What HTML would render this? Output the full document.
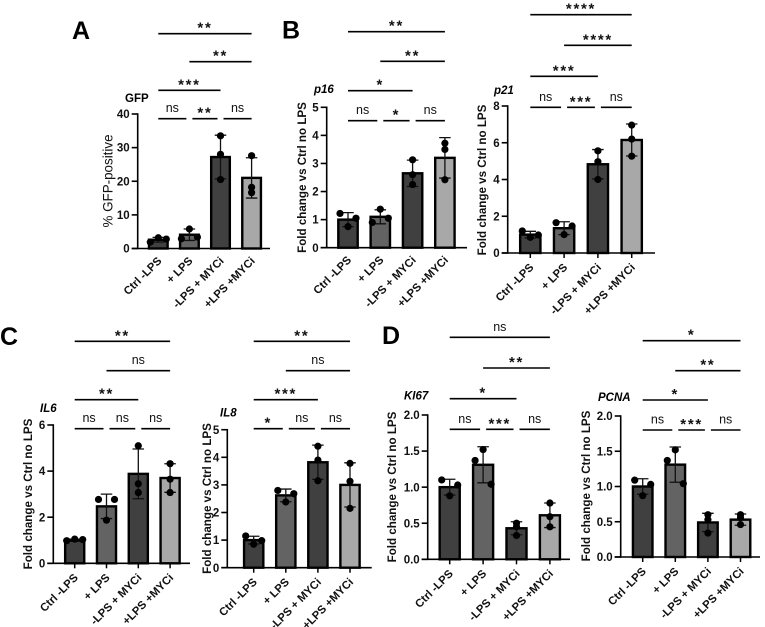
<!DOCTYPE html>
<html lang="en">
<head>
<meta charset="utf-8">
<title>Fold change bar charts</title>
<style>
html,body{margin:0;padding:0;background:#fff;}
svg{display:block;font-family:"Liberation Sans",Arial,sans-serif;}
.letter{font-size:25px;font-weight:700;fill:#000;}
.ptitle{font-size:11.5px;font-weight:700;fill:#000;}
.ital{font-style:italic;}
.ytitle{font-size:11.6px;font-weight:700;fill:#111;text-anchor:middle;}
.ytitle-reg{font-size:13.4px;font-weight:400;fill:#111;text-anchor:middle;}
.tick{font-size:11.5px;font-weight:700;fill:#111;text-anchor:end;}
.xlab{font-size:11.3px;font-weight:700;fill:#111;text-anchor:end;}
.ns{font-size:12.5px;fill:#111;text-anchor:middle;}
.star{font-size:15px;font-weight:700;fill:#111;text-anchor:middle;letter-spacing:1.7px;}
</style>
</head>
<body>
<svg id="figure" xmlns="http://www.w3.org/2000/svg" width="765" height="627" viewBox="0 0 765 627">
  <rect width="765" height="627" fill="#fff"/>
  <text class="letter" x="72" y="39">A</text>
  <text class="letter" x="282" y="38.500">B</text>
  <text class="letter" x="0" y="345">C</text>
  <text class="letter" x="382" y="344">D</text>

  <g id="panel-gfp">
    <text class="ptitle" x="125" y="102">GFP</text>
    <text class="ytitle-reg" transform="translate(112.500,181) rotate(-90)">% GFP-positive</text>
  </g>
  <g id="panel-p16">
    <text class="ptitle ital" x="314" y="93">p16</text>
    <text class="ytitle" transform="translate(306,177.500) rotate(-90)">Fold change vs Ctrl no LPS</text>
  </g>
  <g id="panel-p21">
    <text class="ptitle ital" x="494" y="94">p21</text>
    <text class="ytitle" transform="translate(486,180) rotate(-90)">Fold change vs Ctrl no LPS</text>
  </g>
  <g id="panel-il6">
    <text class="ptitle ital" x="40" y="412">IL6</text>
    <text class="ytitle" transform="translate(32,494) rotate(-90)">Fold change vs Ctrl no LPS</text>
  </g>
  <g id="panel-il8">
    <text class="ptitle ital" x="220" y="416.500">IL8</text>
    <text class="ytitle" transform="translate(211,498.500) rotate(-90)">Fold change vs Ctrl no LPS</text>
  </g>
  <g id="panel-ki67">
    <text class="ptitle ital" x="404" y="399.500">KI67</text>
    <text class="ytitle" transform="translate(396,487) rotate(-90)">Fold change vs Ctrl no LPS</text>
  </g>
  <g id="panel-pcna">
    <text class="ptitle ital" x="598" y="401">PCNA</text>
    <text class="ytitle" transform="translate(590,486) rotate(-90)">Fold change vs Ctrl no LPS</text>
  </g>
</svg>

<script>
// ---- shared categories ----
const categories = ['Ctrl -LPS', '+ LPS', '-LPS + MYCi', '+LPS +MYCi'];
const barFills = ['#404040', '#636363', '#404040', '#a8a8a8'];
// Which pairs of groups each significance bracket compares
const bracketPairs = [[0, 3], [1, 3], [0, 2], [0, 1], [1, 2], [2, 3]];
// Swarm column of each replicate dot: -1 left, 0 middle, 1 right
const swarmWide = [[-1, 0, 1], [0, -1, 1], [0, 0, 0], [0, 0, 0]];

// ---- GFP ----
const gfpTicks = [0, 10, 20, 30, 40];
const gfpMeans = [2.6, 4.1, 27.2, 21];
const gfpSds = [0.7, 1.7, 6.5, 6];
const gfpDots = [[1.9, 3.2, 2.8], [5.8, 2.9, 3.4], [33.5, 28, 20.5], [27.6, 18.2, 16.6]];
const gfpSig = ['**', '**', '***', 'ns', '**', 'ns'];

// ---- p16 ----
const p16Ticks = [0, 1, 2, 3, 4, 5];
const p16Means = [1, 1.1, 2.65, 3.2];
const p16Sds = [0.25, 0.25, 0.47, 0.72];
const p16Dots = [[1.22, 0.75, 1.05], [1.37, 0.9, 1.05], [3.13, 2.6, 2.25], [3.72, 3.5, 2.42]];
const p16Sig = ['**', '**', '*', 'ns', '*', 'ns'];

// ---- p21 ----
const p21Ticks = [0, 2, 4, 6, 8];
const p21Means = [1, 1.35, 4.83, 6.15];
const p21Sds = [0.18, 0.35, 0.8, 0.87];
const p21Dots = [[1.2, 0.85, 0.98], [1.0, 1.65, 1.47], [5.56, 4.97, 4.0], [6.96, 6.2, 5.27]];
const p21Sig = ['****', '****', '***', 'ns', '***', 'ns'];

// ---- IL6 ----
const il6Ticks = [0, 2, 4, 6];
const il6Means = [1, 2.47, 3.88, 3.7];
const il6Sds = [0.05, 0.53, 1.08, 0.62];
const il6Dots = [[0.98, 1.05, 1.03], [1.87, 2.77, 2.77], [5.1, 3.45, 3.07], [4.32, 3.65, 3.07]];
const il6Sig = ['**', 'ns', '**', 'ns', 'ns', 'ns'];

// ---- IL8 ----
const il8Ticks = [0, 1, 2, 3, 4, 5];
const il8Means = [1, 2.62, 3.82, 3.0];
const il8Sds = [0.14, 0.23, 0.62, 0.8];
const il8Dots = [[1.15, 0.85, 0.98], [2.38, 2.8, 2.68], [4.4, 3.9, 3.15], [3.78, 3.13, 2.15]];
const il8Sig = ['**', 'ns', '***', '*', 'ns', 'ns'];

// ---- KI67 ----
const ki67Ticks = [0, 0.5, 1, 1.5, 2];
const ki67Means = [1, 1.31, 0.43, 0.61];
const ki67Sds = [0.11, 0.25, 0.09, 0.17];
const ki67Dots = [[1.1, 0.88, 1.03], [1.52, 1.37, 1.04], [0.33, 0.5, 0.45], [0.78, 0.59, 0.45]];
const ki67Sig = ['ns', '**', '*', 'ns', '***', 'ns'];

// ---- PCNA ----
const pcnaTicks = [0, 0.5, 1, 1.5, 2];
const pcnaMeans = [1, 1.31, 0.49, 0.53];
const pcnaSds = [0.11, 0.25, 0.13, 0.08];
const pcnaDots = [[1.09, 0.87, 1.03], [1.52, 1.37, 1.04], [0.34, 0.6, 0.53], [0.46, 0.6, 0.56]];
const pcnaSig = ['*', '**', '*', 'ns', '***', 'ns'];

const NS = 'http://www.w3.org/2000/svg';
function mk(parent, tag, attrs, text) {
  const el = document.createElementNS(NS, tag);
  for (const k in attrs) el.setAttribute(k, attrs[k]);
  if (text !== undefined) el.textContent = text;
  parent.appendChild(el);
  return el;
}

function drawPanel(id, cfg) {
  const g = document.getElementById('panel-' + id);
  const maxTick = cfg.ticks[cfg.ticks.length - 1];
  const minTick = cfg.ticks[0];
  const yScale = v => cfg.base - (v - minTick) / (maxTick - minTick) * (cfg.base - cfg.top);
  const xScale = i => cfg.x0 + i * cfg.step;
  const barW = cfg.step * 0.6;
  const capW = 11.5;
  const dotGap = 8;
  const decimals = cfg.decimals || 0;

  // bars first, so that error bars and dots sit on top
  cfg.means.forEach((m, i) => {
    const bar = mk(g, 'rect', {
      x: xScale(i) - barW / 2, y: yScale(m), width: barW, height: cfg.base - yScale(m),
      fill: barFills[i], stroke: '#000', 'stroke-width': 2.4
    });
    
    
  });

  // error bars
  cfg.means.forEach((m, i) => {
    const hi = yScale(m + cfg.sds[i]);
    const lo = yScale(m - cfg.sds[i]);
    const cx = xScale(i);
    const err = mk(g, 'path', {
      d: 'M' + cx + ' ' + hi + 'V' + lo +
         'M' + (cx - capW / 2) + ' ' + hi + 'H' + (cx + capW / 2) +
         'M' + (cx - capW / 2) + ' ' + lo + 'H' + (cx + capW / 2),
      fill: 'none', stroke: '#111', 'stroke-width': 1.3
    });
    
    
  });

  // replicate dots
  cfg.dots.forEach((vals, i) => {
    vals.forEach((v, j) => {
      const dot = mk(g, 'circle', {
        cx: xScale(i) + swarmWide[i][j] * dotGap, cy: yScale(v), r: 3.6, fill: '#000'
      });
      
      
    });
  });

  // y axis + ticks
  const yAxis = mk(g, 'path', {
    d: 'M' + cfg.axisX + ' ' + (cfg.top - 0.75) + 'V' + (cfg.base + 0.75),
    fill: 'none', stroke: '#000', 'stroke-width': 1.6
  });
  
  

  cfg.ticks.forEach(t => {
    const mark = mk(g, 'line', {
      x1: cfg.axisX - 6, x2: cfg.axisX, y1: yScale(t), y2: yScale(t), stroke: '#000', 'stroke-width': 1.6
    });
    
    
    const lab = mk(g, 'text', {
      class: 'tick', x: cfg.axisX - 8, y: yScale(t) + 4.1
    }, t.toFixed(decimals));
    
    
  });

  // x axis
  const xAxis = mk(g, 'line', {
    x1: cfg.axisX - 6, x2: cfg.xEnd, y1: cfg.base, y2: cfg.base, stroke: '#000', 'stroke-width': 1.6
  });
  
  

  categories.forEach((c, i) => {
    const cx = xScale(i);
    if (cfg.xTicks) {
      const mark = mk(g, 'line', {
        x1: cx, x2: cx, y1: cfg.base, y2: cfg.base + 5, stroke: '#000', 'stroke-width': 1.5
      });
      
      
    }
    const lx = cx + 4;
    const ly = cfg.base + (cfg.xTicks ? 15 : 13);
    const lab = mk(g, 'text', {
      class: 'xlab', x: lx, y: ly, transform: 'rotate(-45 ' + lx + ' ' + ly + ')'
    }, c);
    
    
  });

  // significance brackets; adjacent ones leave a small gap between them
  bracketPairs.forEach((pair, k) => {
    const adjacent = pair[1] - pair[0] === 1;
    const rowY = adjacent ? cfg.rows[3] : cfg.rows[k];
    const x1 = xScale(pair[0]) + (adjacent && pair[0] > 0 ? 3 : 0);
    const x2 = xScale(pair[1]) - (adjacent && pair[1] < 3 ? 3 : 0);
    const line = mk(g, 'line', {
      x1: x1, x2: x2, y1: rowY, y2: rowY, stroke: '#000', 'stroke-width': 1.6
    });
    
    
    const s = cfg.sig[k];
    const isNs = s === 'ns';
    const lab = mk(g, 'text', {
      class: isNs ? 'ns' : 'star', x: (x1 + x2) / 2, y: rowY + (isNs ? -6.5 : -1)
    }, s);
    
    
  });
}

drawPanel('gfp', { ticks: gfpTicks, means: gfpMeans, sds: gfpSds, dots: gfpDots, sig: gfpSig,
  axisX: 137.7, xEnd: 270, top: 114, base: 248.5, x0: 158.3, step: 31.1, xTicks: false,
  rows: [33.7, 61.7, 90.3, 118.7] });
drawPanel('p16', { ticks: p16Ticks, means: p16Means, sds: p16Sds, dots: p16Dots, sig: p16Sig,
  axisX: 326.7, xEnd: 467, top: 107.3, base: 247.7, x0: 348, step: 32.3, xTicks: false,
  rows: [31.7, 61.3, 90.7, 120.7] });
drawPanel('p21', { ticks: p21Ticks, means: p21Means, sds: p21Sds, dots: p21Dots, sig: p21Sig,
  axisX: 507.7, xEnd: 655, top: 106, base: 253, x0: 530.3, step: 33.8, xTicks: true,
  rows: [14.7, 45.3, 76.3, 107.3] });
drawPanel('il6', { ticks: il6Ticks, means: il6Means, sds: il6Sds, dots: il6Dots, sig: il6Sig,
  axisX: 53.3, xEnd: 190, top: 425, base: 563.3, x0: 74.7, step: 31.8, xTicks: true,
  rows: [341.3, 370.7, 399.7, 428.7] });
drawPanel('il8', { ticks: il8Ticks, means: il8Means, sds: il8Sds, dots: il8Dots, sig: il8Sig,
  axisX: 227.3, xEnd: 371.7, top: 429.7, base: 567.7, x0: 253.7, step: 32.1, xTicks: true,
  rows: [341.3, 370.7, 399.7, 428.7] });
drawPanel('ki67', { ticks: ki67Ticks, means: ki67Means, sds: ki67Sds, dots: ki67Dots, sig: ki67Sig,
  axisX: 427.7, xEnd: 570, top: 415, base: 559.3, x0: 449.7, step: 33.4, xTicks: true, decimals: 1,
  rows: [337.3, 368, 398.7, 429.3] });
drawPanel('pcna', { ticks: pcnaTicks, means: pcnaMeans, sds: pcnaSds, dots: pcnaDots, sig: pcnaSig,
  axisX: 620.7, xEnd: 760, top: 416, base: 557, x0: 642.7, step: 32.6, xTicks: true, decimals: 1,
  rows: [340.7, 370.7, 400, 430] });
</script>
</body>
</html>
